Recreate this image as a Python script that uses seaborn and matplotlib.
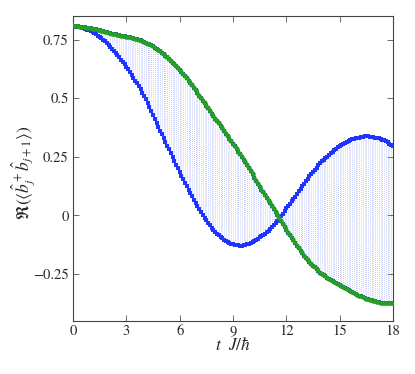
import numpy as np
import pandas as pd
import seaborn as sns
import matplotlib.pyplot as plt

# time grid (t J / hbar) and the two correlation curves
t = np.round(np.arange(0, 18.001, 0.1), 1)

fast = [0.805, 0.805, 0.805, 0.804, 0.802, 0.800, 0.798, 0.795, 0.792, 0.789,
        0.785, 0.781, 0.777, 0.772, 0.767, 0.762, 0.756, 0.749, 0.742, 0.734,
        0.726, 0.718, 0.710, 0.701, 0.692, 0.683, 0.674, 0.664, 0.654, 0.644,
        0.634, 0.623, 0.612, 0.600, 0.588, 0.575, 0.563, 0.550, 0.537, 0.524,
        0.511, 0.495, 0.479, 0.463, 0.447, 0.430, 0.413, 0.396, 0.379, 0.362,
        0.345, 0.329, 0.313, 0.297, 0.281, 0.265, 0.249, 0.233, 0.217, 0.201,
        0.185, 0.170, 0.155, 0.140, 0.125, 0.110, 0.095, 0.081, 0.067, 0.053,
        0.040, 0.027, 0.014, 0.002, -0.010, -0.021, -0.032, -0.042, -0.052, -0.061,
        -0.070, -0.078, -0.085, -0.092, -0.098, -0.104, -0.109, -0.113, -0.117, -0.120,
        -0.123, -0.125, -0.127, -0.128, -0.129, -0.129, -0.128, -0.126, -0.123, -0.120,
        -0.116, -0.112, -0.108, -0.104, -0.099, -0.094, -0.089, -0.084, -0.078, -0.072,
        -0.065, -0.058, -0.050, -0.042, -0.033, -0.024, -0.014, -0.003, 0.008, 0.019,
        0.030, 0.040, 0.050, 0.060, 0.070, 0.080, 0.091, 0.102, 0.113, 0.124,
        0.135, 0.146, 0.156, 0.166, 0.176, 0.186, 0.195, 0.204, 0.213, 0.222,
        0.230, 0.237, 0.244, 0.251, 0.258, 0.265, 0.271, 0.278, 0.284, 0.290,
        0.295, 0.300, 0.305, 0.310, 0.314, 0.318, 0.321, 0.324, 0.326, 0.328,
        0.330, 0.332, 0.334, 0.336, 0.337, 0.337, 0.337, 0.336, 0.335, 0.334,
        0.332, 0.330, 0.328, 0.326, 0.323, 0.320, 0.316, 0.311, 0.306, 0.301,
        0.295]

slow = [0.806, 0.806, 0.806, 0.806, 0.805, 0.805, 0.804, 0.803, 0.801, 0.800,
        0.798, 0.797, 0.795, 0.793, 0.791, 0.789, 0.787, 0.785, 0.783, 0.781,
        0.779, 0.777, 0.775, 0.774, 0.772, 0.770, 0.768, 0.767, 0.765, 0.764,
        0.762, 0.761, 0.759, 0.757, 0.755, 0.753, 0.751, 0.749, 0.746, 0.743,
        0.740, 0.737, 0.733, 0.729, 0.725, 0.721, 0.716, 0.711, 0.705, 0.699,
        0.693, 0.687, 0.681, 0.674, 0.667, 0.660, 0.652, 0.645, 0.637, 0.629,
        0.620, 0.612, 0.603, 0.594, 0.584, 0.575, 0.565, 0.555, 0.544, 0.533,
        0.522, 0.511, 0.500, 0.489, 0.478, 0.467, 0.456, 0.445, 0.434, 0.424,
        0.413, 0.403, 0.392, 0.382, 0.371, 0.360, 0.349, 0.338, 0.327, 0.316,
        0.305, 0.294, 0.283, 0.272, 0.261, 0.250, 0.238, 0.226, 0.213, 0.201,
        0.188, 0.175, 0.161, 0.148, 0.135, 0.122, 0.110, 0.098, 0.087, 0.075,
        0.063, 0.051, 0.038, 0.026, 0.013, 0.000, -0.012, -0.025, -0.037, -0.050,
        -0.062, -0.074, -0.085, -0.096, -0.107, -0.118, -0.129, -0.140, -0.151, -0.162,
        -0.172, -0.181, -0.190, -0.199, -0.207, -0.215, -0.222, -0.230, -0.237, -0.244,
        -0.250, -0.255, -0.260, -0.265, -0.270, -0.275, -0.279, -0.284, -0.288, -0.292,
        -0.296, -0.301, -0.305, -0.310, -0.314, -0.318, -0.322, -0.326, -0.330, -0.334,
        -0.338, -0.342, -0.345, -0.349, -0.352, -0.355, -0.358, -0.360, -0.362, -0.364,
        -0.366, -0.368, -0.370, -0.372, -0.373, -0.374, -0.375, -0.375, -0.375, -0.375,
        -0.375]

xticks = [0, 3, 6, 9, 12, 15, 18]
yticks = [-0.25, 0, 0.25, 0.5, 0.75]
ytick_labels = ["\u22120.25", "0", "0.25", "0.5", "0.75"]

df = pd.DataFrame({"t": t, "fast": fast, "slow": slow})

sns.set_style("ticks")
# STIX ships with matplotlib and gives the Times look of the original
plt.rcParams["font.family"] = ["STIXGeneral", "DejaVu Serif"]
plt.rcParams["mathtext.fontset"] = "stix"

fig = plt.figure(figsize=(4.15, 3.74), dpi=100)
ax = fig.add_axes([0.176, 0.142, 0.771, 0.815])

# dotted columns joining the two curves
ax.vlines(df["t"], df["fast"], df["slow"], colors="#8494ff", linestyles=":",
          linewidth=0.55, alpha=0.75, zorder=1)

sns.scatterplot(data=df, x="t", y="fast", ax=ax, color="#1f35ff", s=7,
                linewidth=0, marker="s", zorder=3)
sns.scatterplot(data=df, x="t", y="slow", ax=ax, color="#1f35ff", s=9,
                linewidth=0, marker="s", zorder=3)
sns.scatterplot(data=df, x="t", y="slow", ax=ax, color="#25a025", s=11,
                linewidth=0, zorder=4)

ax.set_xlim(0, 18)
ax.set_ylim(-0.45, 0.85)
ax.set_xticks(xticks)
ax.set_xticklabels([str(v) for v in xticks])
ax.set_yticks(yticks)
ax.set_yticklabels(ytick_labels)

for side in ["top", "right", "left", "bottom"]:
    ax.spines[side].set_visible(True)
    ax.spines[side].set_color("#444444")
    ax.spines[side].set_linewidth(0.8)
ax.tick_params(direction="in", top=True, right=True, length=4, width=0.6,
               color="#555555", labelsize=10.5, pad=3)

ax.set_xlabel(r"$t\ \ J/\hbar$", fontsize=12.5, labelpad=-1)
ax.set_ylabel(r"$\Re(\langle\hat{b}_j^+\hat{b}_{j+1}\rangle)$", fontsize=12.5)
ax.yaxis.set_label_coords(-0.11, 0.485)

fig.savefig("out.png", dpi=100, facecolor="white")
